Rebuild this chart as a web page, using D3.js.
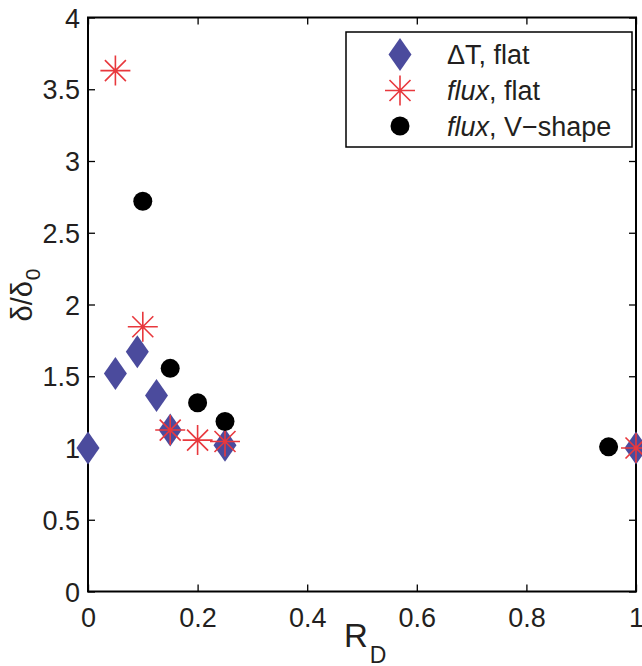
<!DOCTYPE html>
<html>
<head>
<meta charset="utf-8">
<script src="https://cdn.jsdelivr.net/npm/d3@7"></script>
<style>
  html, body { margin: 0; padding: 0; background: #fff; }
  svg { display: block; }
  text { font-family: "Liberation Sans", Arial, Helvetica, sans-serif; fill: #231f20; }
</style>
</head>
<body>
<svg id="chart" width="642" height="666"></svg>
<script>
// Series: ΔT with flat profile, flux with flat profile, flux with V-shape profile
const dTFlatR   = [0, 0.05, 0.09, 0.125, 0.15, 0.25, 1.0];
const dTFlatD   = [1.0, 1.52, 1.67, 1.365, 1.125, 1.02, 1.0];
const fluxFlatR = [0.05, 0.1, 0.15, 0.2, 0.25, 1.0];
const fluxFlatD = [3.63, 1.845, 1.125, 1.055, 1.045, 1.0];
const fluxVR    = [0.1, 0.15, 0.2, 0.25, 0.95];
const fluxVD    = [2.72, 1.555, 1.315, 1.185, 1.008];

const xTicks = [0, 0.2, 0.4, 0.6, 0.8, 1];
const yTicks = [0, 0.5, 1, 1.5, 2, 2.5, 3, 3.5, 4];
const legendLabels = [
  [{t: "ΔT", i: false}, {t: ", flat", i: false}],
  [{t: "flux", i: true}, {t: ", flat", i: false}],
  [{t: "flux", i: true}, {t: ", V\u2212shape", i: false}]
];

const blue = "#4b4b9d", red = "#e8383d", black = "#000";

const svg = d3.select("#chart");
const L = 88, R = 636, T = 17.5, B = 591.5;
const x = d3.scaleLinear().domain([0, 1]).range([L, R]);
const y = d3.scaleLinear().domain([0, 4]).range([B, T]);

const fs = 27;

// axes with inward ticks on all four sides
const tickLen = 7;
const axB = svg.append("g").attr("transform", `translate(0,${B})`)
  .call(d3.axisBottom(x).tickValues(xTicks).tickSizeInner(-tickLen).tickSizeOuter(0).tickPadding(16.5)
    .tickFormat(d => d3.format("")(d)));
const axT = svg.append("g").attr("transform", `translate(0,${T})`)
  .call(d3.axisTop(x).tickValues(xTicks).tickSizeInner(-tickLen).tickSizeOuter(0).tickFormat(""));
const axL = svg.append("g").attr("transform", `translate(${L},0)`)
  .call(d3.axisLeft(y).tickValues(yTicks).tickSizeInner(-tickLen).tickSizeOuter(0).tickPadding(8)
    .tickFormat(d => d3.format("")(d)));
const axR = svg.append("g").attr("transform", `translate(${R},0)`)
  .call(d3.axisRight(y).tickValues(yTicks).tickSizeInner(-tickLen).tickSizeOuter(0).tickFormat(""));

[axB, axT, axL, axR].forEach(g => {
  g.select(".domain").remove();
  g.selectAll(".tick line").attr("stroke", "#000").attr("stroke-width", 1.3);
  g.selectAll(".tick text").style("font-size", fs + "px").attr("fill", "#231f20");
});
axB.selectAll(".tick text").attr("dy", "0.71em");
axL.selectAll(".tick text").attr("dy", "0.36em");

svg.append("rect").attr("x", L).attr("y", T).attr("width", R - L).attr("height", B - T)
  .attr("fill", "none").attr("stroke", "#000").attr("stroke-width", 2);

// marker shapes
function diamond(g, cx, cy) {
  g.append("path")
    .attr("d", `M${cx},${cy - 16.5}L${cx + 11.5},${cy}L${cx},${cy + 16.5}L${cx - 11.5},${cy}Z`)
    .attr("fill", blue);
}
function star(g, cx, cy) {
  const h = 15, d = 10.5;
  g.append("path")
    .attr("d", `M${cx - h},${cy}L${cx + h},${cy}M${cx},${cy - h}L${cx},${cy + h}` +
               `M${cx - d},${cy - d}L${cx + d},${cy + d}M${cx - d},${cy + d}L${cx + d},${cy - d}`)
    .attr("stroke", red).attr("stroke-width", 1.6).attr("fill", "none");
}
function dot(g, cx, cy) {
  g.append("circle").attr("cx", cx).attr("cy", cy).attr("r", 9.5).attr("fill", black);
}

const marks = svg.append("g");
d3.zip(dTFlatR, dTFlatD).forEach(([r, v]) => diamond(marks, x(r), y(v)));
d3.zip(fluxFlatR, fluxFlatD).forEach(([r, v]) => star(marks, x(r), y(v)));
d3.zip(fluxVR, fluxVD).forEach(([r, v]) => dot(marks, x(r), y(v)));

// legend
const lg = svg.append("g");
lg.append("rect").attr("x", 346).attr("y", 32).attr("width", 286).attr("height", 115)
  .attr("fill", "#fff").attr("stroke", "#000").attr("stroke-width", 1.5);
const rowY = [54.5, 90.5, 126];
diamond(lg, 400, rowY[0]);
star(lg, 400, rowY[1]);
dot(lg, 400, rowY[2]);
legendLabels.forEach((parts, i) => {
  const t = lg.append("text").attr("x", 447).attr("y", rowY[i]).attr("dy", "0.36em")
    .style("font-size", fs + "px");
  parts.forEach(p => t.append("tspan").text(p.t).style("font-style", p.i ? "italic" : "normal"));
});

// axis titles
const xl = svg.append("text").attr("x", 344).attr("y", 647)
  .style("font-size", "33px");
xl.append("tspan").text("R");
xl.append("tspan").text("D").attr("dx", 2).attr("dy", 16).style("font-size", "23px");

const yl = svg.append("text").attr("transform", `translate(32,295) rotate(-90)`)
  .attr("text-anchor", "middle").style("font-size", "29px");
yl.append("tspan").text("δ/δ");
yl.append("tspan").text("0").attr("dx", 1).attr("dy", 8).style("font-size", "21px");
</script>
</body>
</html>
